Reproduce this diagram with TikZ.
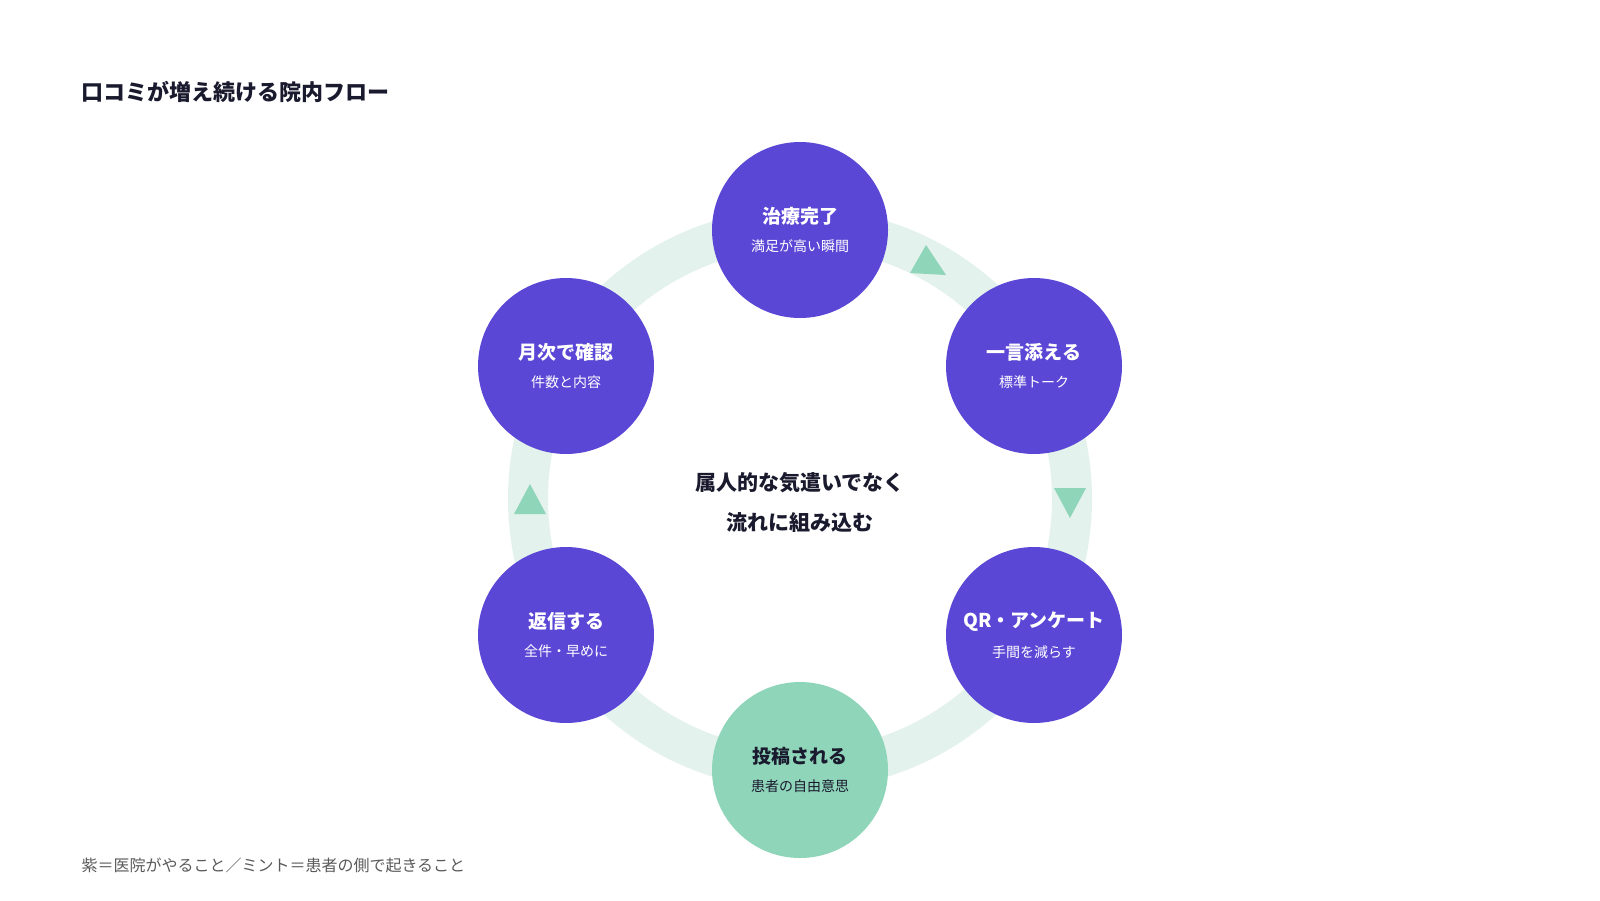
\documentclass[tikz,border=0pt]{standalone}
\usepackage{fontspec}
\setmainfont{Noto Sans CJK JP}[BoldFont={Noto Sans CJK JP Black}]
\definecolor{purp}{HTML}{5B47D6}
\definecolor{mint}{HTML}{8FD5B9}
\definecolor{ring}{HTML}{E3F2EC}
\definecolor{ink}{HTML}{1A1A2E}
\begin{document}
\begin{tikzpicture}[x=1pt,y=-1pt,
  st/.style={circle,minimum size=176pt,inner sep=0pt,align=center},
  pc/.style={st,fill=purp,text=white},
  mc/.style={st,fill=mint,text=ink},
  tri/.style={fill=mint}]
\useasboundingbox (0,0) rectangle (1600,900);
\draw[ring,line width=40pt] (800,499) ellipse (272pt and 271pt);
\fill[tri] (926,245) -- (910,273) -- (946,275) -- cycle;
\fill[tri] (1054,488) -- (1086,488) -- (1070,518) -- cycle;
\fill[tri] (530,484) -- (546,514) -- (514,514) -- cycle;
\newcommand{\lbl}[2]{{\fontsize{19}{22}\selectfont\bfseries #1}\\[13pt]{\fontsize{14}{16}\selectfont #2}}
\node[pc] (a) at (800,230) {\lbl{治療完了}{満足が高い瞬間}};
\node[pc] (b) at (1034,366) {\lbl{一言添える}{標準トーク}};
\node[pc] (c) at (1034,635) {\lbl{QR・アンケート}{手間を減らす}};
\node[mc] (d) at (800,770) {\lbl{投稿される}{患者の自由意思}};
\node[pc] (e) at (566,635) {\lbl{返信する}{全件・早めに}};
\node[pc] (f) at (566,366) {\lbl{月次で確認}{件数と内容}};
\node[align=center,text=ink,font=\fontsize{21}{40}\selectfont\bfseries] (m) at (800,502) {属人的な気遣いでなく\\流れに組み込む};
\node[anchor=west,text=ink,font=\fontsize{22}{24}\selectfont\bfseries] (t) at (78,92) {口コミが増え続ける院内フロー};
\node[anchor=west,text=black!65,font=\fontsize{16}{18}\selectfont] (n) at (78,865) {紫＝医院がやること／ミント＝患者の側で起きること};
\end{tikzpicture}
\end{document}
